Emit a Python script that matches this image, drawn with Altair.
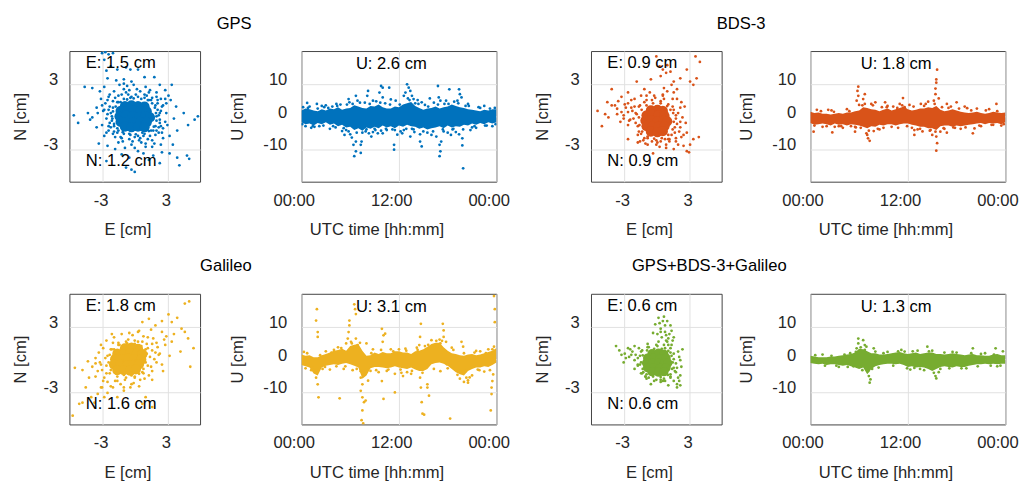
import altair as alt
import pandas as pd

FONT = "Liberation Sans"
FS = 17
SYSTEMS = ["GPS", "BDS-3", "Galileo", "GPS+BDS-3+Galileo"]
COLORS = ["#0072BD", "#D95319", "#EDB120", "#77AC30"]
E_RMS = [1.5, 0.9, 1.8, 0.6]
N_RMS = [1.2, 0.9, 1.6, 0.6]
U_RMS = [2.6, 1.8, 3.1, 1.3]

EN_DOMAIN = [-6, 6]
EN_TICKS = [-3, 3]
U_DOMAIN = [-20, 20]
U_TICKS = [-10, 0, 10]
TIME_DOMAIN = [0, 24]
TIME_TICKS = [0, 12, 24]
TIME_LABELS = ["00:00", "12:00", "00:00"]
HOURS = [0, 0.5, 1, 1.5, 2, 2.5, 3, 3.5, 4, 4.5, 5, 5.5, 6, 6.5, 7, 7.5, 8, 8.5, 9, 9.5,
         10, 10.5, 11, 11.5, 12, 12.5, 13, 13.5, 14, 14.5, 15, 15.5, 16, 16.5, 17, 17.5, 18, 18.5,
         19, 19.5, 20, 20.5, 21, 21.5, 22, 22.5, 23, 23.5, 24]

# ---------------- horizontal (E, N) scatter: dense core + scattered points
GPS_EN_CORE = [(-0.9, 0.95), (-0.3, 1.0), (0.3, 0.95), (0.9, 0.9),
               (-1.3, 0.5), (-0.7, 0.5), (-0.1, 0.55), (0.5, 0.5), (1.1, 0.45),
               (-1.4, 0.0), (-0.8, 0.05), (-0.2, 0.0), (0.4, -0.05), (1.0, 0.0), (1.4, -0.1),
               (-1.3, -0.5), (-0.7, -0.5), (-0.1, -0.55), (0.5, -0.5), (1.1, -0.55),
               (-0.9, -0.95), (-0.3, -1.0), (0.3, -0.95), (0.9, -1.0)]
GPS_EN_POINTS = [(-3.0, 5.8), (-2.7, 5.9), (-2.4, 5.7), (-2.0, 5.8), (-2.8, 5.2), (-2.2, 4.6), (-2.6, 4.2),
                 (-1.6, 4.3), (-0.8, 4.5), (-0.4, 4.3), (0.3, 4.3), (0.9, 3.6), (1.8, 3.6), (-2.5, 3.5),
                 (-1.7, 3.3), (-1.0, 3.4), (-0.3, 3.2), (-5.6, 0.1), (-5.2, -0.6), (-4.3, 0.3), (-3.9, -0.1),
                 (-3.5, 0.8), (-4.6, 2.7), (-3.9, 2.6), (-3.2, 2.3), (-2.8, 2.7), (-2.3, 2.0), (-4.1, -0.3),
                 (-3.0, -0.8), (-3.3, -2.5), (-2.5, -2.7), (-2.0, -1.6), (5.8, 0.0), (5.5, -0.3), (4.5, 0.3),
                 (4.9, -0.8), (3.8, 0.9), (3.3, 1.5), (2.8, 2.4), (3.4, 2.9), (2.3, 2.9), (3.9, -1.3),
                 (3.5, -2.6), (3.2, -3.4), (4.8, -3.6), (5.0, -3.9), (4.1, -4.5), (3.9, -3.8), (1.7, -3.6),
                 (2.5, -3.3), (2.3, -4.3), (-0.3, -4.9), (0.0, -5.1), (-0.8, -4.7), (-1.2, -3.5), (0.8, -3.4),
                 (-0.5, -3.8), (1.3, -4.0), (-2.6, -4.1), (-1.8, -3.0), (0.3, -3.2), (-2.5, 1.5), (-2.8, 0.6),
                 (2.6, 1.0), (2.5, -1.5), (2.8, -0.5), (-1.5, -2.4), (1.8, -2.5), (0.2, 2.5), (-0.7, 2.8),
                 (1.3, 2.2), (-2.2, -1.0), (-1.2, 2.0), (2.0, 1.8), (1.0, -2.8), (-0.3, -2.6),
                 (-2.3, 0.9), (-2.0, 1.4), (-1.5, 1.9), (-0.8, 2.2), (0.1, 2.0), (0.9, 2.0), (1.6, 1.7),
                 (2.1, 1.2), (2.4, 0.5), (2.3, -0.3), (2.2, -1.0), (1.9, -1.7), (1.2, -2.1), (0.4, -2.2),
                 (-0.5, -2.1), (-1.3, -1.9), (-1.9, -1.4), (-2.3, -0.6), (-2.5, 0.2), (-2.1, 0.0), (2.0, 0.0),
                 (0.0, -1.9), (-0.3, 1.8), (1.3, 1.5), (-1.5, 1.3), (1.7, -1.3), (-1.6, -1.5), (0.8, -1.8),
                 (-2.7, 1.2), (2.6, -2.0), (2.0, 2.2), (-1.0, 2.5), (1.0, -2.5), (2.9, 0.3),
                 (2.1, 0.6), (2.3, -0.6), (1.9, 1.0), (1.5, 1.5), (0.9, 1.7), (0.3, 1.8), (-0.4, 1.7),
                 (-1.0, 1.6), (-1.6, 1.3), (-2.0, 0.8), (-2.2, 0.3), (-2.1, -0.4), (-1.9, -0.9), (-1.5, -1.3),
                 (-1.0, -1.6), (-0.4, -1.7), (0.3, -1.8), (0.9, -1.6), (1.5, -1.3), (1.9, -0.9), (2.2, 0.1),
                 (2.5, 0.9), (2.6, -1.1), (2.2, -1.5), (1.6, -2.2), (0.6, -2.4), (-0.2, -2.3), (-1.1, -2.3),
                 (-1.8, -1.9), (-2.4, -1.3), (-2.6, -0.2), (-2.9, 0.5), (-2.4, 1.8), (-1.9, 2.3), (-0.5, 2.4),
                 (0.5, 2.3), (1.4, 2.4), (2.4, 1.6), (3.0, -0.8), (2.9, 1.2), (-3.1, 1.6), (-2.8, -1.8),
                 (-3.4, 0.3), (3.2, -1.8), (1.6, -2.8), (-0.9, -2.9), (2.4, -2.6), (-0.1, 2.9), (-1.4, 2.9),
                 (3.1, 1.9),
                 (1.95, 0.3), (2.0, -0.4), (1.85, 0.8), (1.6, 1.2), (1.2, 1.5), (0.6, 1.6), (-0.1, 1.65),
                 (-0.7, 1.55), (-1.3, 1.3), (-1.75, 0.9), (-2.0, 0.45), (-2.05, -0.2), (-1.9, -0.7),
                 (-1.6, -1.1), (-1.1, -1.45), (-0.5, -1.6), (0.1, -1.65), (0.7, -1.5), (1.3, -1.35),
                 (1.75, -0.95), (2.3, 0.3), (2.4, -0.9), (2.1, 1.5), (1.1, 1.9), (-0.6, 2.0), (-1.8, 1.7),
                 (-2.4, 0.6), (-2.4, -0.9), (-1.2, -2.0), (0.5, -2.0), (1.4, -1.8), (2.0, -1.3), (-2.6, -1.5),
                 (2.8, 1.6), (-3.5, -1.0), (3.6, -0.2), (-1.0, 3.0), (1.0, 2.7), (0.0, -2.9), (-3.0, 1.0)]

BDS_EN_CORE = [(-0.5, 0.55), (0.1, 0.6), (0.6, 0.5),
               (-0.9, 0.1), (-0.35, 0.15), (0.2, 0.1), (0.75, 0.05),
               (-1.0, -0.4), (-0.45, -0.4), (0.1, -0.45), (0.65, -0.4), (1.0, -0.45),
               (-0.9, -0.9), (-0.35, -0.9), (0.2, -0.95), (0.75, -0.9),
               (-0.5, -1.4), (0.1, -1.45), (0.6, -1.35)]
BDS_EN_POINTS = [(3.6, 5.5), (4.0, 5.0), (0.0, 5.5), (0.6, 4.3), (0.9, 4.0), (1.3, 4.1), (0.4, 3.7),
                 (-0.5, 3.4), (-1.8, 3.2), (2.2, 3.5), (2.8, 4.3), (3.1, 3.2), (3.4, 2.9), (3.7, 3.5),
                 (1.6, 3.2), (0.7, 2.6), (-1.1, 2.5), (-4.1, 2.5), (-2.6, 2.2), (1.6, 2.2), (0.3, 4.6),
                 (1.0, 4.7), (-5.4, 0.5), (-5.0, -0.9), (-4.7, 0.2), (-4.5, 1.3), (-4.1, 1.0), (-3.6, 0.7),
                 (-3.5, 1.4), (-3.2, 0.4), (-2.9, 1.1), (-4.4, -0.1), (-3.3, -0.5), (-2.6, 0.4), (-2.3, 0.8),
                 (-2.1, -0.2), (-2.6, -0.8), (-2.0, 1.6), (-3.0, 0.1), (-2.6, -2.1), (-1.7, -1.7), (-0.8, -2.6),
                 (-0.3, -3.4), (0.1, -2.4), (0.9, -2.6), (1.6, -3.0), (2.5, -2.7), (2.8, -3.2), (3.0, -3.3),
                 (3.1, -2.6), (3.9, -1.9), (3.4, -2.1), (2.5, -1.7), (2.2, -1.0), (2.4, -0.1), (2.2, 0.8),
                 (1.9, 1.6), (-1.5, -2.3), (1.2, -2.1), (1.8, -2.3),
                 (-1.8, 0.2), (-1.6, 0.9), (-1.1, 1.3), (-0.4, 1.5), (0.4, 1.4), (1.1, 1.1), (1.6, 0.6),
                 (1.8, -0.2), (1.7, -1.0), (1.4, -1.7), (0.8, -2.1), (0.0, -2.2), (-0.8, -2.0), (-1.4, -1.6),
                 (-1.7, -0.9), (-2.2, 0.5), (2.0, 0.3), (-0.2, 1.9), (1.2, -2.3), (-1.2, -2.2), (2.1, -1.4),
                 (-2.4, -0.3), (0.6, 2.0), (1.5, 1.6),
                 (1.5, 0.9), (1.8, 0.1), (1.9, -0.7), (1.7, -1.5), (1.1, -2.1), (0.4, -2.3), (-0.4, -2.3),
                 (-1.1, -2.0), (-1.6, -1.4), (-1.9, -0.6), (-1.9, 0.3), (-1.5, 1.0), (-0.9, 1.5), (-0.1, 1.7),
                 (0.7, 1.6), (2.3, -1.9), (2.0, -2.6), (-2.6, 1.2), (-3.0, -0.2), (-2.3, 1.5), (1.0, 2.3),
                 (-0.6, 2.2), (0.3, -2.8), (-1.7, -2.4), (2.6, 0.9), (2.7, -0.6), (1.4, 2.9), (1.9, 2.5),
                 (-1.4, 1.9), (-3.6, 0.2),
                 (1.55, 0.3), (1.6, -0.5), (1.5, -1.2), (1.1, -1.7), (0.5, -2.0), (-0.2, -2.05), (-0.8, -1.85),
                 (-1.3, -1.4), (-1.55, -0.8), (-1.6, -0.1), (-1.35, 0.6), (-0.9, 1.0), (-0.3, 1.2), (0.4, 1.2),
                 (1.0, 0.95), (1.3, 0.6), (2.2, -0.5), (-2.5, -0.4), (-2.0, 0.9), (0.0, -2.6), (1.8, -2.0),
                 (-1.0, -2.5), (0.6, 1.9), (2.3, 1.3), (-2.8, 0.8), (-3.8, 1.0), (0.9, -2.9), (2.8, -1.5),
                 (-0.9, 1.9), (-3.2, 1.8)]

GAL_EN_CORE = [(-0.9, 1.0), (-0.3, 1.05), (0.3, 0.95),
               (-1.6, 0.5), (-1.0, 0.5), (-0.4, 0.55), (0.2, 0.5), (0.7, 0.45),
               (-1.8, 0.0), (-1.2, 0.0), (-0.6, 0.05), (0.0, 0.0), (0.6, -0.05),
               (-1.9, -0.5), (-1.3, -0.5), (-0.7, -0.55), (-0.1, -0.5), (0.4, -0.45),
               (-1.6, -1.0), (-1.0, -1.0), (-0.4, -1.05), (0.1, -0.95)]
GAL_EN_POINTS = [(4.6, 5.1), (5.0, 5.3), (3.1, 4.1), (2.5, 3.5), (3.4, 3.4), (3.9, 3.8), (4.3, 2.8),
                 (4.6, 2.5), (4.9, 1.9), (5.4, 1.0), (5.1, -0.7), (4.2, 0.7), (3.4, 1.6), (0.7, 3.4),
                 (1.3, 3.7), (1.9, 3.1), (0.3, 2.5), (2.5, 2.5), (2.8, 1.3), (2.2, 0.4), (2.5, -0.5),
                 (1.6, -1.1), (-2.1, 2.3), (-3.1, 1.3), (-5.7, -5.2), (-5.1, -4.1), (-4.8, -4.0),
                 (-4.5, -2.6), (-4.0, -3.5), (-3.7, -4.0), (-3.4, -3.2), (-3.1, -2.6), (-2.8, -3.5),
                 (-2.5, -3.1), (-2.2, -2.5), (-5.5, -0.8), (-4.8, -1.0), (-4.3, -0.2), (-3.9, -0.7),
                 (-3.6, 0.1), (-3.4, -1.1), (-2.8, -1.7), (-4.2, -1.7), (-1.6, -3.5), (-1.0, -2.9),
                 (-0.4, -2.6), (0.4, -2.5), (1.0, -3.5), (1.6, -4.4), (0.7, -4.1), (-0.1, -2.2),
                 (-1.6, -2.0), (-3.1, -0.5),
                 (-2.6, -1.3), (-2.7, 0.1), (-2.2, 0.9), (-1.5, 1.5), (-0.6, 1.8), (0.3, 1.6), (1.1, 1.4),
                 (1.6, 0.8), (1.8, 0.0), (1.5, -0.7), (0.8, -1.3), (0.0, -1.7), (-0.9, -1.9), (-1.8, -2.0),
                 (-2.5, -2.1), (-3.0, -1.0), (2.0, 1.5), (1.2, 2.0), (-0.2, 2.2), (0.9, -1.8), (-1.3, -2.3),
                 (-3.2, -0.3), (2.3, 0.5), (-2.0, 1.5),
                 (1.2, 1.0), (1.4, 0.2), (1.2, -0.6), (0.7, -1.2), (0.0, -1.6), (-0.8, -1.7), (-1.6, -1.6),
                 (-2.3, -1.3), (-2.6, -0.6), (-2.5, 0.3), (-2.1, 0.9), (-1.5, 1.3), (-0.8, 1.6), (0.0, 1.7),
                 (0.7, 1.6), (1.7, 1.9), (2.1, 1.1), (2.0, -0.3), (1.3, -1.5), (-0.3, -2.3), (-2.0, -2.6),
                 (-2.9, -2.0), (-3.3, 0.6), (-2.6, 1.7), (-1.2, 2.3), (0.4, 2.6), (1.5, 2.7), (2.9, 2.1),
                 (3.2, 0.3), (-3.6, -1.6),
                 (1.1, 0.5), (1.0, -0.3), (0.8, -0.9), (0.4, -1.35), (-0.3, -1.5), (-1.0, -1.45), (-1.7, -1.35),
                 (-2.2, -1.0), (-2.4, -0.3), (-2.3, 0.4), (-1.9, 0.9), (-1.4, 1.3), (-0.7, 1.45), (0.0, 1.4),
                 (0.6, 1.2), (1.0, 0.9), (1.9, 0.6), (1.6, 1.4), (0.8, 2.1), (-0.5, 2.4), (-1.9, 2.0),
                 (-2.9, 1.0), (-3.6, -0.4), (-3.0, -2.6), (-1.0, -2.6), (0.5, -1.9), (1.6, -1.9), (2.6, -1.1),
                 (2.7, 1.8), (3.6, 2.3)]

ALL_EN_CORE = [(-0.4, 0.5), (0.2, 0.55), (0.7, 0.45),
               (-0.8, 0.1), (-0.25, 0.1), (0.35, 0.05), (0.9, 0.1),
               (-0.9, -0.35), (-0.35, -0.35), (0.2, -0.4), (0.75, -0.35), (1.05, -0.35),
               (-0.8, -0.8), (-0.25, -0.8), (0.35, -0.85), (0.9, -0.8),
               (-0.4, -1.15), (0.2, -1.2), (0.7, -1.15)]
ALL_EN_POINTS = [(0.2, 3.8), (0.7, 3.9), (1.0, 3.5), (-0.1, 3.2), (0.4, 2.8), (0.8, 2.5), (1.4, 2.6),
                 (1.6, 2.0), (1.1, 1.9), (0.5, 2.0), (0.1, 2.3), (0.8, 3.1), (1.3, 3.1), (1.0, 1.6),
                 (0.2, 1.6), (-3.7, 1.2), (-3.4, 0.8), (-2.9, 0.5), (-2.6, 1.0), (-2.5, 0.2), (-2.2, 0.7),
                 (-2.0, -0.1), (-1.9, 0.4), (-2.8, 0.1), (-1.7, -0.5), (-1.6, 1.0), (-3.2, 0.4), (2.0, 0.7),
                 (2.2, -0.1), (1.9, -0.8), (2.0, -1.7), (1.9, -2.3), (1.9, -2.6), (1.6, -2.0), (1.3, -1.6),
                 (0.8, -2.0), (0.4, -1.9), (-1.0, -1.6), (-1.3, -1.3), (1.4, 1.3), (-0.8, 1.4),
                 (-1.5, 0.3), (-1.3, 0.8), (-0.7, 1.1), (0.1, 1.2), (0.8, 1.0), (1.3, 0.6), (1.6, 0.0),
                 (1.6, -0.8), (1.3, -1.4), (0.7, -1.8), (0.0, -1.9), (-0.7, -1.7), (-1.2, -1.2),
                 (-1.5, -0.5), (1.8, -1.2), (0.4, -2.1), (-1.0, -1.6), (1.1, 1.3),
                 (1.6, 0.5), (1.8, -0.4), (1.7, -1.1), (1.3, -1.7), (0.6, -2.0), (-0.2, -2.0), (-0.9, -1.8),
                 (-1.4, -1.3), (-1.7, -0.6), (-1.7, 0.1), (-1.4, 0.7), (-0.8, 1.1), (0.0, 1.3), (0.7, 1.3),
                 (1.3, 1.0), (2.1, -2.0), (2.2, -2.4), (-2.3, 0.4), (0.9, 2.2), (1.2, 2.3), (0.6, 3.5),
                 (0.3, 3.3), (2.1, 0.2), (-2.4, 0.9),
                 (1.4, 0.3), (1.5, -0.3), (1.45, -0.9), (1.05, -1.45), (0.4, -1.65), (-0.3, -1.6), (-0.9, -1.4),
                 (-1.25, -0.9), (-1.4, -0.3), (-1.25, 0.35), (-0.85, 0.8), (-0.2, 0.95), (0.5, 0.95),
                 (1.1, 0.75), (2.3, -0.7), (2.2, -1.5), (-2.0, -0.9), (-3.0, -0.3), (-2.0, 1.2), (0.9, 1.7),
                 (1.5, 1.7), (0.4, 2.5), (-0.3, 2.4), (1.1, -2.4), (-0.5, -2.3), (2.4, 0.9)]

# ---------------- vertical (U) time series: dense band per half hour + scattered points
GPS_U_LOW = [-1.8, -2.4, -2.2, -2.8, -2.0, -2.4, -1.8, -2.6, -2.2, -3.0, -2.6, -3.4, -3.2, -4.2, -3.6,
             -4.4, -3.4, -3.8, -3.2, -3.6, -2.8, -3.4, -3.0, -3.6, -2.8, -3.2, -2.6, -3.0, -3.2, -3.8,
             -3.4, -4.0, -3.6, -3.4, -3.0, -3.6, -2.8, -3.4, -3.0, -3.2, -2.6, -2.8, -2.2, -2.6, -2.0,
             -2.4, -1.8, -2.2, -1.8]
GPS_U_HIGH = [1.8, 2.4, 2.2, 1.8, 1.6, 2.2, 1.8, 2.4, 2.2, 2.8, 2.0, 2.4, 2.6, 3.4, 3.0, 2.6, 2.4, 3.2,
              3.0, 3.6, 2.8, 2.4, 2.4, 3.0, 2.8, 3.6, 4.0, 4.4, 3.2, 2.6, 2.0, 2.4, 2.6, 3.0, 2.4, 2.8,
              3.0, 3.6, 3.2, 2.8, 2.6, 2.2, 2.0, 1.8, 1.6, 2.0, 1.8, 2.2, 2.2]
GPS_U_POINTS = [(6.5, -12.2), (6.7, -10.7), (6.4, -8.7), (6.7, -7.7), (7.3, -11.2), (7.3, -8.7), (7.4, -7.7),
                (8.3, -5.2), (9.4, -5.2), (11.4, -10.2), (11.4, -8.7), (5.3, -5.7), (5.5, -4.2), (14.8, -9.2),
                (14.6, -7.7), (17.0, -12.2), (17.1, -10.7), (17.0, -8.7), (17.2, -7.7), (19.8, -8.9),
                (19.8, -6.7), (19.9, -15.9), (13.4, -6.2), (16.0, -5.7), (10.0, -5.2), (12.4, -5.2),
                (18.4, -5.7), (8.6, -6.2), (5.8, 5.3), (5.9, 4.3), (6.7, 6.3), (8.1, 6.3), (8.2, 7.8),
                (9.8, 9.3), (10.0, 8.8), (10.8, 8.8), (9.6, 7.3), (10.0, 5.8), (11.6, 4.8), (13.0, 9.8),
                (13.2, 8.8), (13.4, 7.8), (12.8, 7.3), (13.6, 6.3), (13.8, 5.3), (12.6, 6.3), (16.8, 9.3),
                (16.9, 5.8), (17.1, 4.8), (18.2, 8.3), (19.4, 8.3), (19.5, 6.8), (19.7, 5.8), (19.2, 4.8),
                (17.8, 4.8), (8.8, 4.8), (4.3, 3.8), (1.9, 3.8), (0.7, 4.1), (14.8, 4.3),
                (1.2, -3.5), (2.5, 3.2), (3.5, -3.8), (4.8, 3.6), (5.0, -4.5), (6.0, -5.5), (7.8, 4.2),
                (8.8, -4.8), (9.2, 4.6), (10.5, -4.2), (11.0, 5.2), (12.2, -4.6), (13.9, -4.8), (14.3, 5.0),
                (15.5, -5.0), (16.3, 4.2), (17.5, -4.6), (18.8, 4.5), (19.0, -4.8), (20.5, 3.8),
                (21.5, -3.5), (22.5, 3.2), (23.5, -3.0), (0.5, -3.0), (3.0, 3.4), (9.0, -3.8),
                (11.8, -5.6), (15.8, 5.5), (18.0, -5.0), (20.8, -4.2),
                (0.2, 2.8), (1.0, 3.0), (1.6, -3.2), (2.2, -3.0), (2.8, 2.8), (3.8, 3.0), (4.2, -3.4),
                (5.6, 3.6), (6.2, -6.5), (6.9, 4.8), (7.5, -5.0), (8.0, -4.0), (9.8, -4.4), (10.3, 4.0),
                (11.2, -4.0), (12.6, -4.2), (13.1, 5.5), (13.6, -3.8), (14.0, 4.0), (14.6, -5.5),
                (15.2, 3.5), (16.6, -6.2), (17.6, 3.8), (18.6, -4.0), (19.4, -5.5), (20.2, 3.2),
                (21.0, -3.4), (21.8, 2.8), (22.8, -2.8), (23.8, 2.6),
                (0.8, 2.6), (1.4, -3.0), (2.0, 2.4), (2.7, -2.8), (3.3, 2.6), (3.9, -3.0), (4.4, 3.2),
                (5.2, -3.6), (5.8, -4.6), (6.3, 3.8), (6.8, -5.0), (7.2, 4.2), (7.9, -4.6), (8.4, 3.8),
                (9.1, -4.2), (9.7, 4.2), (10.4, -3.8), (10.9, 3.6), (11.5, -4.2), (12.1, 3.6), (12.9, -3.8),
                (13.3, 5.0), (13.8, -4.0), (14.4, 3.8), (15.0, -4.6), (15.6, 3.0), (16.2, -4.6), (16.8, 3.6),
                (17.4, -4.0), (18.1, 3.8), (18.7, -3.8), (19.3, 4.0), (19.9, -4.0), (20.6, 3.2),
                (21.3, -3.0), (22.0, 2.6), (22.6, -2.8), (23.2, 2.4), (23.9, -2.4), (0.1, -2.4)]

BDS_U_LOW = [-2.0, -2.6, -2.4, -2.2, -2.4, -2.8, -2.2, -2.6, -2.4, -2.8, -2.4, -2.6, -2.8, -3.2, -3.6,
             -3.0, -3.2, -2.6, -2.8, -2.4, -2.4, -2.8, -2.4, -2.2, -2.2, -2.6, -2.8, -3.2, -3.2, -3.6,
             -3.6, -4.2, -3.0, -2.8, -2.8, -3.2, -2.8, -3.0, -2.8, -2.6, -2.4, -2.2, -2.0, -2.4, -2.0,
             -2.2, -2.0, -2.4, -1.8]
BDS_U_HIGH = [1.4, 1.0, 1.2, 0.8, 0.8, 0.6, 0.8, 1.0, 0.8, 1.2, 1.2, 1.6, 1.8, 2.8, 2.6, 2.2, 2.0, 1.6,
              2.0, 2.4, 1.8, 2.2, 2.6, 3.0, 2.2, 1.8, 2.0, 2.4, 2.4, 2.8, 2.6, 3.2, 2.0, 1.6, 1.8, 2.2,
              1.8, 1.4, 1.2, 1.0, 1.2, 1.4, 1.0, 0.8, 1.0, 1.4, 1.2, 1.0, 1.2]
BDS_U_POINTS = [(5.9, 9.1), (5.8, 7.8), (5.9, 6.3), (5.7, 4.8), (6.7, 6.8), (6.5, 5.3), (6.7, 3.8),
                (5.5, -3.2), (5.5, -4.7), (6.9, -5.2), (7.1, -6.7), (7.3, -7.5), (7.0, -5.7), (7.5, 3.8),
                (8.0, 4.3), (8.8, 2.8), (2.7, -4.9), (0.4, -4.7), (11.6, 2.8), (11.4, 5.6), (15.2, 4.8),
                (15.4, 6.8), (15.5, 11.3), (15.5, 10.3), (15.4, 8.5), (15.6, 14.3), (15.4, -4.7),
                (15.5, -6.2), (15.6, -8.2), (15.5, -10.5), (15.0, -5.7), (16.0, -4.7), (12.8, -4.2),
                (12.8, -5.7), (14.8, -4.2), (20.0, -5.2), (20.2, -3.7), (22.9, 3.8), (16.8, 3.8),
                (18.0, 4.3), (9.2, 4.3), (13.6, 3.8), (10.4, -1.7),
                (1.5, -3.2), (2.2, 2.0), (3.5, -3.0), (4.5, 2.2), (8.5, -4.0), (9.5, 3.2), (10.8, -3.5),
                (12.2, 3.5), (13.2, -4.0), (14.2, 3.8), (16.5, -3.8), (17.3, 3.0), (18.5, -3.8),
                (19.3, 2.5), (21.0, -3.0), (22.0, 2.2), (23.5, -2.8), (4.0, -3.5), (6.2, -3.5), (16.2, 2.8),
                (0.8, 2.0), (2.6, 1.8), (3.0, -3.2), (5.0, -3.0), (6.0, 3.5), (7.8, -4.5), (9.0, -3.5),
                (10.2, 3.0), (11.0, 3.8), (12.5, -3.5), (13.8, -4.6), (14.5, 4.5), (15.8, 5.5),
                (16.8, -5.0), (17.8, -3.5), (19.0, 3.0), (20.5, 2.4), (22.5, -2.6),
                (0.5, -2.8), (1.3, 1.6), (2.0, -3.0), (2.9, 1.4), (3.8, -3.0), (4.8, 1.6), (5.6, -3.4),
                (6.4, 3.4), (7.2, -4.4), (7.7, 3.4), (8.3, -3.8), (9.4, 2.8), (10.0, -3.2), (10.7, 2.6),
                (11.3, 3.4), (11.9, -3.0), (12.7, 3.0), (13.5, -3.8), (14.0, 3.2), (14.7, -4.4), (15.3, 3.8),
                (16.4, -3.6), (17.0, 2.6), (17.6, -3.4), (18.3, 2.4), (19.1, -3.4), (19.8, 1.8),
                (20.8, -2.8), (21.6, 1.8), (22.3, -2.6), (23.0, 1.6), (23.8, -2.4)]

GAL_U_LOW = [-1.8, -2.2, -2.6, -4.4, -5.0, -2.6, -2.0, -1.8, -1.6, -1.8, -1.4, -1.2, -1.6, -2.0, -2.6,
             -6.0, -5.0, -2.8, -2.4, -2.4, -2.6, -2.8, -2.6, -2.2, -2.6, -2.8, -3.0, -2.6, -3.2, -3.6,
             -3.6, -3.0, -1.6, -1.2, -1.0, -1.4, -2.0, -3.0, -4.0, -4.6, -5.0, -3.6, -3.0, -2.6, -2.6,
             -2.2, -2.4, -1.8, -1.0]
GAL_U_HIGH = [1.4, 1.0, 1.2, 0.6, 0.6, 1.2, 1.6, 2.0, 2.6, 2.8, 3.2, 2.6, 4.0, 4.4, 4.6, 2.6, 1.0, 1.2,
              2.0, 1.6, 2.2, 1.8, 1.8, 2.4, 2.4, 2.0, 2.0, 1.6, 2.4, 2.6, 3.0, 3.8, 4.6, 5.0, 5.0, 3.6,
              2.6, 1.8, 1.6, 1.2, 1.0, 1.4, 1.6, 1.2, 1.4, 1.8, 2.2, 2.6, 3.4]
GAL_U_POINTS = [(1.9, 15.3), (1.8, 11.8), (2.0, 8.3), (2.0, 6.8), (1.7, -3.7), (1.8, -5.7), (2.0, -7.7),
                (2.1, -11.7), (4.7, -12.0), (6.5, 16.8), (6.6, 15.3), (6.7, 13.8), (5.9, 11.8), (5.9, 10.3),
                (5.8, 8.3), (5.7, 6.3), (6.1, 5.3), (6.7, 6.3), (6.9, 4.3), (8.0, 4.8), (7.3, -3.7),
                (7.3, -5.7), (7.5, -7.7), (7.3, -9.7), (7.5, -11.7), (7.7, -13.2), (7.5, -15.7),
                (7.4, -18.7), (7.6, -19.7), (7.9, -12.7), (9.9, 9.3), (10.1, 7.3), (10.0, 5.3),
                (9.9, -6.7), (10.1, -12.2), (11.5, -10.2), (12.3, -4.2), (12.5, -5.2), (14.7, 10.8),
                (14.6, 6.8), (14.5, 4.3), (14.7, -8.7), (14.8, -13.2), (14.9, -16.7), (14.6, -5.7),
                (15.5, -7.7), (15.5, -8.7), (15.7, -11.2), (15.1, -17.0), (17.1, -3.7), (17.4, 10.8),
                (17.5, 8.8), (17.5, 6.8), (17.8, 5.3), (17.1, 4.8), (18.3, -18.2), (19.7, 5.3),
                (19.9, 3.8), (20.2, -3.7), (20.3, -5.7), (20.5, -7.2), (23.3, -15.7), (23.4, -10.7),
                (23.4, -8.7), (23.5, -6.7), (23.6, -4.7), (23.7, 19.3), (23.8, 15.3), (23.8, 11.3),
                (23.7, 3.8), (23.6, 1.8), (23.4, -0.2), (10.3, 7.8), (21.7, -3.2),
                (0.5, -2.8), (3.0, 2.4), (3.5, -3.2), (4.5, 3.6), (5.2, -3.0), (8.8, 3.0), (9.5, -4.0),
                (11.0, 3.0), (11.5, -4.5), (12.8, 3.2), (13.5, -4.5), (14.2, 3.5), (16.3, -3.0),
                (18.5, 3.5), (19.5, -6.0), (20.5, -6.5), (21.5, 2.5), (22.5, -3.8), (23.0, 3.0),
                (0.3, 2.2), (1.2, -3.4), (2.6, -3.0), (4.0, 2.8), (5.5, 4.8), (6.3, -3.4), (8.5, -3.6),
                (10.5, -3.6), (12.0, 3.0), (13.0, -4.0), (15.2, 4.0), (16.0, 5.8), (17.0, 6.0),
                (18.0, -2.8), (20.0, -7.0), (21.0, -5.0), (22.0, 2.4), (23.2, -3.4),
                (0.7, 1.8), (1.3, -2.6), (2.3, 1.2), (2.9, -2.4), (3.7, 2.0), (4.3, -2.2), (4.9, 3.4),
                (5.4, -2.2), (6.2, 4.8), (6.8, -3.0), (7.2, 5.0), (8.2, -6.6), (8.6, 1.8), (9.2, -3.4),
                (9.8, 2.8), (10.7, -3.2), (11.3, 2.4), (12.2, -3.2), (12.9, 2.6), (13.6, -3.6), (14.3, 2.8),
                (14.9, -4.2), (15.6, 4.4), (16.6, 5.6), (17.3, 5.6), (17.9, -1.6), (18.7, 2.8), (19.2, -4.8),
                (20.0, 1.8), (20.7, -5.6), (21.3, 2.0), (21.9, -3.4), (22.7, 1.8), (23.5, 3.0)]

ALL_U_LOW = [-1.2, -1.4, -1.6, -1.4, -1.8, -1.6, -1.6, -1.8, -2.0, -1.8, -2.2, -2.6, -3.0, -2.6, -4.6,
             -3.0, -2.2, -1.8, -1.6, -1.4, -1.4, -1.6, -1.4, -1.8, -2.4, -2.2, -2.6, -2.4, -2.6, -3.0,
             -3.6, -3.0, -2.4, -2.2, -2.4, -2.6, -2.2, -2.4, -2.4, -2.0, -1.8, -1.6, -1.6, -1.4, -1.6,
             -1.4, -1.6, -1.4, -1.4]
ALL_U_HIGH = [1.0, 0.8, 0.6, 0.6, 0.6, 0.8, 0.8, 1.0, 1.2, 1.4, 1.6, 2.0, 3.2, 3.0, 2.4, 1.8, 1.8, 1.4,
              1.4, 1.6, 1.8, 2.0, 2.2, 1.8, 1.6, 1.8, 2.0, 1.6, 1.8, 2.0, 2.0, 1.6, 1.6, 1.4, 1.6, 1.8,
              1.6, 1.4, 1.2, 1.4, 1.6, 1.2, 1.2, 1.0, 1.0, 1.4, 1.6, 1.2, 1.2]
ALL_U_POINTS = [(5.9, 6.3), (5.9, 4.8), (5.7, 3.3), (6.5, 5.8), (6.7, 4.3), (6.7, 2.8), (7.1, -3.7),
                (7.2, -5.2), (7.3, -7.2), (7.4, -6.2), (5.3, -2.2), (7.8, 3.3), (8.0, 2.3), (14.4, 3.8),
                (15.4, -5.2), (15.5, -5.9), (15.2, -4.2), (12.8, -2.7), (20.0, 3.3), (22.8, 3.3),
                (4.9, 1.8), (11.6, 2.3),
                (1.5, 1.4), (3.5, -2.4), (6.2, 3.6), (7.6, -3.0), (9.5, 2.2), (11.2, 2.8), (12.3, -3.2),
                (13.2, 2.6), (14.0, -3.4), (15.0, 2.6), (16.0, -3.0), (17.5, 2.2), (19.2, -2.8),
                (21.5, 1.8), (23.0, -2.2), (23.7, 2.4),
                (0.6, 1.2), (1.8, -2.0), (2.6, 1.0), (3.2, -2.0), (4.2, 1.4), (4.6, -2.4), (5.6, 2.2),
                (6.4, -3.4), (6.9, 3.8), (8.4, -2.6), (9.0, 1.8), (10.2, -2.0), (10.8, 2.4), (11.9, -2.8),
                (12.6, 2.4), (13.5, -3.0), (14.6, 2.4), (15.8, -4.0), (16.5, 2.0), (17.1, -2.8), (18.0, 2.0),
                (18.6, -2.8), (19.8, 1.8), (20.6, -2.2), (21.0, 1.6), (22.2, -2.0), (22.6, 1.4), (23.4, -2.0)]

EN_CORE = [GPS_EN_CORE, BDS_EN_CORE, GAL_EN_CORE, ALL_EN_CORE]
EN_POINTS = [GPS_EN_POINTS, BDS_EN_POINTS, GAL_EN_POINTS, ALL_EN_POINTS]
U_LOW = [GPS_U_LOW, BDS_U_LOW, GAL_U_LOW, ALL_U_LOW]
U_HIGH = [GPS_U_HIGH, BDS_U_HIGH, GAL_U_HIGH, ALL_U_HIGH]
U_POINTS = [GPS_U_POINTS, BDS_U_POINTS, GAL_U_POINTS, ALL_U_POINTS]

# annotation anchor positions (data units)
EN_TEXT_X = -4.5
EN_TEXT_Y = [4.85, -4.15]
U_TEXT_X = [6.7, 6.2, 6.7, 6.2]
U_TEXT_Y = 16

CORE_SIZE = [110, 110, 110, 90]
TITLE_DX = [151, 129, 134, 42]
TEXT_COLOR = "#000000"
AX_COLOR = "#262626"

time_expr = " : ".join(
    f"datum.value == {v} ? '{lab}'" for v, lab in zip(TIME_TICKS[:-1], TIME_LABELS[:-1])
) + f" : '{TIME_LABELS[-1]}'"


def scatter_panel(k):
    color = COLORS[k]
    x = alt.X("E:Q", scale=alt.Scale(domain=EN_DOMAIN, nice=False, zero=False),
              axis=alt.Axis(values=EN_TICKS, title="E [cm]", labelPadding=11, titlePadding=14,
                            labelExpr="datum.value + ''", labelFlush=False, labelOffset=-1.5,
                            titleX=59.5))
    y = alt.Y("N:Q", scale=alt.Scale(domain=EN_DOMAIN, nice=False, zero=False),
              axis=alt.Axis(values=EN_TICKS, title="N [cm]", labelPadding=12, titlePadding=14,
                            labelExpr="datum.value + ''", labelFlush=False, labelOffset=-4))
    core = alt.Chart(pd.DataFrame(EN_CORE[k], columns=["E", "N"])).mark_circle(
        size=CORE_SIZE[k], color=color, opacity=1, clip=True).encode(x=x, y=y)
    pts = alt.Chart(pd.DataFrame(EN_POINTS[k], columns=["E", "N"])).mark_circle(
        size=8, color=color, opacity=1, clip=True).encode(x=x, y=y)
    tdf = pd.DataFrame({"E": [EN_TEXT_X, EN_TEXT_X], "N": EN_TEXT_Y,
                        "t": [f"E: {E_RMS[k]} cm", f"N: {N_RMS[k]} cm"]})
    txt = alt.Chart(tdf).mark_text(align="left", baseline="middle", fontSize=FS, font=FONT,
                                   color=TEXT_COLOR).encode(x=x, y=y, text="t:N")
    return alt.layer(core, pts, txt).properties(
        width=134, height=134,
        title=alt.TitleParams(SYSTEMS[k], anchor="start", frame="group", dx=TITLE_DX[k], offset=19,
                              fontSize=FS, fontWeight="normal", font=FONT, color=TEXT_COLOR))


def u_panel(k):
    color = COLORS[k]
    xax = alt.Axis(values=TIME_TICKS, title="UTC time [hh:mm]", labelPadding=11, titlePadding=14,
                   labelExpr=time_expr, labelOffset=-8, labelFlush=False, titleX=77)
    x = alt.X("h:Q", scale=alt.Scale(domain=TIME_DOMAIN, nice=False, zero=False), axis=xax)
    ysc = alt.Scale(domain=U_DOMAIN, nice=False, zero=False)
    yax = alt.Axis(values=U_TICKS, title="U [cm]", labelPadding=15, titlePadding=17,
                   labelExpr="datum.value + ''", labelFlush=False, labelOffset=-4)
    band_df = pd.DataFrame({"h": HOURS, "lo": U_LOW[k], "hi": U_HIGH[k]})
    band = alt.Chart(band_df).mark_area(color=color, opacity=1, clip=True).encode(
        x=x, y=alt.Y("lo:Q", scale=ysc, axis=yax), y2="hi:Q")
    pts = alt.Chart(pd.DataFrame(U_POINTS[k], columns=["h", "lo"])).mark_circle(
        size=8, color=color, opacity=1, clip=True).encode(x=x, y=alt.Y("lo:Q", scale=ysc, axis=yax))
    tdf = pd.DataFrame({"h": [U_TEXT_X[k]], "lo": [U_TEXT_Y], "t": [f"U: {U_RMS[k]} cm"]})
    txt = alt.Chart(tdf).mark_text(align="left", baseline="middle", fontSize=FS, font=FONT,
                                   color=TEXT_COLOR).encode(
        x=x, y=alt.Y("lo:Q", scale=ysc, axis=yax), text="t:N")
    return alt.layer(band, pts, txt).properties(width=200, height=134)


def group(k, spacing):
    return alt.hconcat(scatter_panel(k), u_panel(k), spacing=spacing, bounds="flush")


row1 = alt.hconcat(group(0, 104), group(1, 91), spacing=23)
row2 = alt.hconcat(group(2, 104), group(3, 91), spacing=23)
chart = alt.vconcat(row1, row2, spacing=19).properties(
    padding={"left": 3, "top": 0, "right": 0, "bottom": 0}
).configure_view(
    stroke="#404040", strokeWidth=1
).configure_axis(
    grid=True, gridColor="#e0e0e0", gridWidth=1, ticks=False, tickSize=0, domain=False,
    labelFont=FONT, titleFont=FONT, labelFontSize=FS, titleFontSize=FS, titleFontWeight="normal",
    labelColor=AX_COLOR, titleColor=AX_COLOR, zindex=1
)

chart.save("out.html", embed_options={"renderer": "svg", "actions": False})
